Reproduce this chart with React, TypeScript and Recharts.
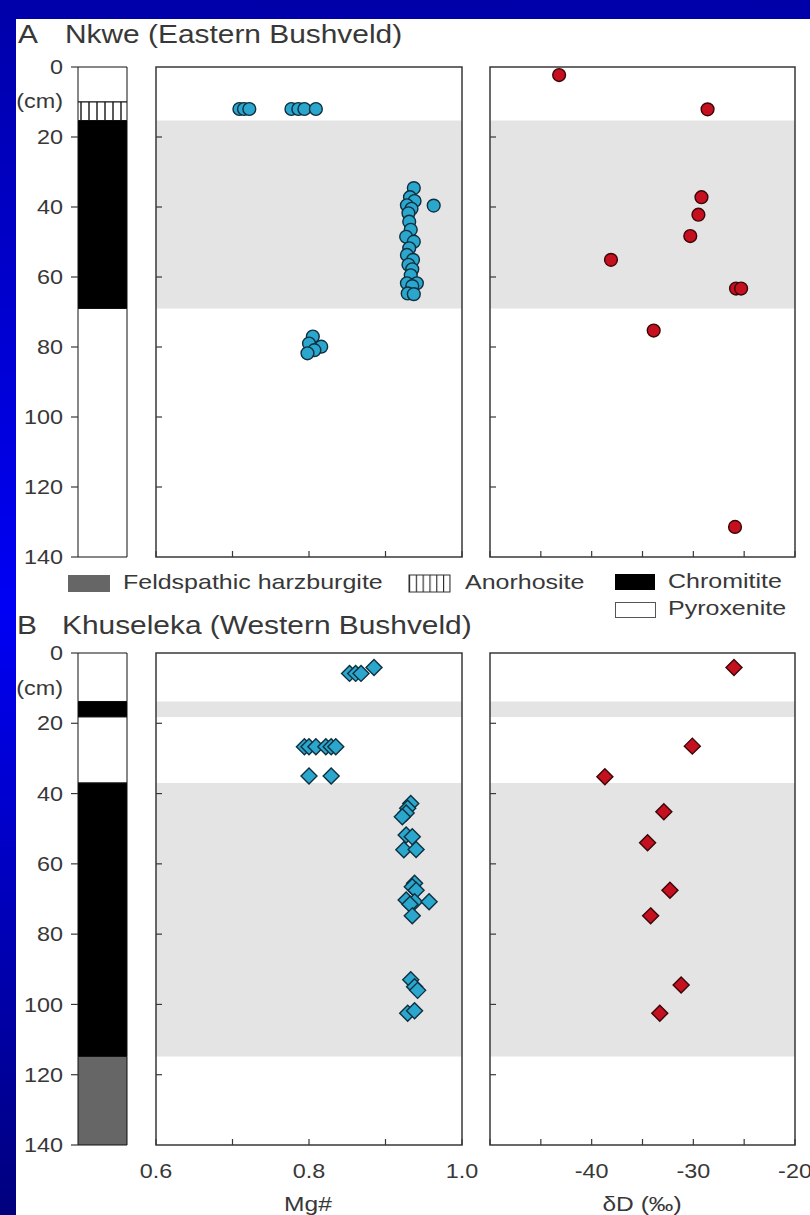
import React from "react";
import { ScatterChart, Scatter, XAxis, YAxis, ReferenceArea, BarChart, Bar } from "recharts";

const FONT = '"Liberation Sans", Arial, Helvetica, sans-serif';
const INK = "#383838";
const STRETCH = 1.17;

// depth axis (cm) shared by all panels
const depthTicks = [0, 20, 40, 60, 80, 100, 120, 140];
const innerDepthTicks = [20, 40, 60, 80, 100, 120];

const mgTicks = [0.6, 0.7, 0.8, 0.9, 1.0];
const mgLabels = [0.6, 0.8, 1.0];
const dDTicks = [-50, -45, -40, -35, -30, -25, -20];
const dDLabels = [-40, -30, -20];

// lithology columns (depth in cm)
const nkweLayers = [
  { rock: "Pyroxenite", from: 0, to: 10 },
  { rock: "Anorthosite", from: 10, to: 15.3 },
  { rock: "Chromitite", from: 15.3, to: 69 },
  { rock: "Pyroxenite", from: 69, to: 140 },
];
const khuselekaLayers = [
  { rock: "Pyroxenite", from: 0, to: 13.8 },
  { rock: "Chromitite", from: 13.8, to: 18.2 },
  { rock: "Pyroxenite", from: 18.2, to: 37 },
  { rock: "Chromitite", from: 37, to: 114.8 },
  { rock: "Feldspathic harzburgite", from: 114.8, to: 140 },
];

// A - Nkwe: [Mg#, depth]
const nkweMg: [number, number][] = [
  [0.709, 12], [0.715, 12], [0.722, 12],
  [0.777, 12], [0.786, 12], [0.794, 12], [0.809, 12],
  [0.937, 34.6], [0.932, 37.2], [0.938, 38.3], [0.928, 39.5], [0.934, 40.5],
  [0.93, 41.8], [0.931, 44.2], [0.933, 46.5], [0.927, 48.5], [0.937, 49.9],
  [0.931, 51.8], [0.928, 53.7], [0.936, 55.1], [0.93, 56.5], [0.935, 57.8],
  [0.933, 59.5], [0.928, 61.8], [0.941, 61.8], [0.935, 62.6], [0.929, 64.7],
  [0.937, 64.9], [0.963, 39.6],
  [0.805, 77], [0.8, 79], [0.816, 79.9], [0.807, 80.9], [0.798, 81.8],
];
// A - Nkwe: [δD, depth]
const nkweDD: [number, number][] = [
  [-43.2, 2.3], [-28.6, 12.1], [-29.2, 37.2], [-29.5, 42.2], [-30.3, 48.3],
  [-38.1, 55.1], [-25.8, 63.3], [-25.3, 63.3], [-33.9, 75.3], [-25.9, 131.4],
];

// B - Khuseleka: [Mg#, depth]
const khuMg: [number, number][] = [
  [0.885, 4.1], [0.853, 5.8], [0.861, 5.8], [0.868, 5.8],
  [0.794, 26.7], [0.8, 26.7], [0.809, 26.7], [0.822, 26.7], [0.829, 26.7], [0.835, 26.7],
  [0.8, 35], [0.829, 35],
  [0.933, 42.8], [0.929, 44.2], [0.927, 45.5], [0.922, 46.6],
  [0.927, 51.8], [0.935, 52.3], [0.924, 56], [0.94, 55.9],
  [0.938, 65.5], [0.935, 66.5], [0.94, 67.5],
  [0.927, 70.3], [0.938, 70.8], [0.957, 70.8], [0.932, 71.5], [0.935, 74.8],
  [0.933, 93], [0.938, 95], [0.942, 96], [0.929, 102.5], [0.938, 101.8],
];
// B - Khuseleka: [δD, depth]
const khuDD: [number, number][] = [
  [-26.0, 4.1], [-30.1, 26.5], [-38.7, 35.2], [-32.9, 45.2], [-34.5, 54],
  [-32.3, 67.5], [-34.2, 74.8], [-31.2, 94.5], [-33.3, 102.5],
];

const rockFill: Record<string, string> = {
  "Feldspathic harzburgite": "#666666",
  Chromitite: "#000000",
  Pyroxenite: "#ffffff",
};

const BLUE = { fill: "#2ba6cc", stroke: "#0f2f3f" };
const RED = { fill: "#c4101f", stroke: "#3a0608" };
const SHADE = "#e4e4e4";

// plot boxes in page pixels
const A_Y = [67, 557];
const B_Y = [653, 1145];
const MID_X = [156, 462];
const RGT_X = [490, 795];
const LITH_X = [78, 127];

const circleShape = (c: { fill: string; stroke: string }) => (p: any) => (
  <circle cx={p.cx} cy={p.cy} r={6.4} fill={c.fill} stroke={c.stroke} strokeWidth={1.4} />
);
const diamondShape = (c: { fill: string; stroke: string }) => (p: any) => {
  const r = 8;
  return (
    <path
      d={`M${p.cx},${p.cy - r}L${p.cx + r},${p.cy}L${p.cx},${p.cy + r}L${p.cx - r},${p.cy}Z`}
      fill={c.fill}
      stroke={c.stroke}
      strokeWidth={1.4}
    />
  );
};

const lithTick = (props: any) => {
  const { x, y, payload } = props;
  return (
    <g>
      <line x1={x - 7} x2={x} y1={y} y2={y} stroke={INK} strokeWidth={1.2} />
      <text
        transform={`translate(${x - 15},${y}) scale(${STRETCH},1)`}
        textAnchor="end"
        dy="0.36em"
        fontSize={20}
        fill={INK}
        fontFamily={FONT}
      >
        {payload.value}
      </text>
    </g>
  );
};

const innerYTick = (props: any) => {
  const { x, y } = props;
  return <line x1={x} x2={x + 6} y1={y} y2={y} stroke={INK} strokeWidth={1.2} />;
};

const makeXTick = (labels: number[] | null, fmt: (v: number) => string) => (props: any) => {
  const { x, y, payload } = props;
  const v = payload.value;
  return (
    <g>
      <line x1={x} x2={x} y1={y} y2={y - 6} stroke={INK} strokeWidth={1.2} />
      {labels && labels.includes(v) && (
        <text
          transform={`translate(${x},${y + 33}) scale(${STRETCH},1)`}
          textAnchor="middle"
          fontSize={20}
          fill={INK}
          fontFamily={FONT}
        >
          {fmt(v)}
        </text>
      )}
    </g>
  );
};

function DataPanel({ xs, ys, domain, ticks, labels, fmt, points, shape, bands }: any) {
  const PADX = 30;
  const PADT = 10;
  const xh = labels ? 45 : 10;
  const data = points.map(([v, d]: [number, number]) => ({ x: v, y: d }));
  return (
    <div style={{ position: "absolute", left: xs[0] - PADX, top: ys[0] - PADT }}>
      <ScatterChart
        width={xs[1] - xs[0] + 2 * PADX}
        height={ys[1] - ys[0] + PADT + xh}
        margin={{ top: PADT, right: PADX, bottom: 0, left: 0 }}
      >
        {bands.map((b: any, i: number) => (
          <ReferenceArea
            key={i}
            x1={domain[0]}
            x2={domain[1]}
            y1={b.from}
            y2={b.to}
            fill={SHADE}
            fillOpacity={1}
            stroke="none"
          />
        ))}
        <XAxis
          type="number"
          dataKey="x"
          domain={domain}
          ticks={ticks}
          interval={0}
          height={xh}
          tickSize={0}
          tickMargin={0}
          tickLine={false}
          axisLine={false}
          allowDataOverflow
          tick={makeXTick(labels, fmt)}
        />
        <YAxis
          type="number"
          dataKey="y"
          domain={[0, 140]}
          reversed
          ticks={innerDepthTicks}
          interval={0}
          width={PADX}
          tickSize={0}
          tickMargin={0}
          tickLine={false}
          axisLine={false}
          allowDataOverflow
          tick={innerYTick}
        />
        <Scatter data={data} shape={shape} isAnimationActive={false} />
        <ReferenceArea
          x1={domain[0]}
          x2={domain[1]}
          y1={0}
          y2={140}
          fill="none"
          stroke={INK}
          strokeWidth={1.5}
        />
      </ScatterChart>
    </div>
  );
}

function LithColumn({ layers, ys, id }: any) {
  const row: any = { name: "col" };
  layers.forEach((l: any, i: number) => {
    row[`l${i}`] = l.to - l.from;
  });
  return (
    <div style={{ position: "absolute", left: 0, top: ys[0] - 15 }}>
      <BarChart
        width={LITH_X[1] + 4}
        height={ys[1] - ys[0] + 30}
        data={[row]}
        margin={{ top: 15, right: 4, bottom: 15, left: 0 }}
        barCategoryGap={0}
        barGap={0}
      >
        <defs>
          <pattern id={id} width={8} height={8} patternUnits="userSpaceOnUse">
            <rect width={8} height={8} fill="#fff" />
            <line x1={1} x2={1} y1={0} y2={8} stroke="#000" strokeWidth={1.3} />
          </pattern>
        </defs>
        <XAxis dataKey="name" hide />
        <YAxis
          type="number"
          domain={[0, 140]}
          reversed
          ticks={depthTicks}
          interval={0}
          width={LITH_X[0]}
          tickSize={0}
          tickMargin={0}
          tickLine={false}
          axisLine={false}
          tick={lithTick}
        />
        {layers.map((l: any, i: number) => (
          <Bar
            key={i}
            dataKey={`l${i}`}
            stackId="lith"
            fill={l.rock === "Anorthosite" ? `url(#${id})` : rockFill[l.rock]}
            stroke="#111"
            strokeWidth={1}
            isAnimationActive={false}
          />
        ))}
      </BarChart>
    </div>
  );
}

const Txt = ({ x, y, size, anchor = "start", sx = STRETCH, children }: any) => (
  <text
    transform={`translate(${x},${y}) scale(${sx},1)`}
    textAnchor={anchor}
    fontSize={size}
    fill={INK}
    fontFamily={FONT}
  >
    {children}
  </text>
);

const chromBands = (layers: any[]) => layers.filter((l) => l.rock === "Chromitite");
const fmtMg = (v: number) => v.toFixed(1);
const fmtDD = (v: number) => String(v);

export default function App() {
  return (
    <div
      style={{
        position: "absolute",
        left: 0,
        top: 0,
        width: 810,
        height: 1215,
        overflow: "hidden",
        background: "linear-gradient(180deg, #0000a8 0%, #0000f4 50%, #00007e 100%)",
        fontFamily: FONT,
      }}
    >
      <div style={{ position: "absolute", left: 16, top: 19, right: 0, bottom: 0, background: "#fff" }} />

      <LithColumn layers={nkweLayers} ys={A_Y} id="hatchA" />
      <DataPanel xs={MID_X} ys={A_Y} domain={[0.6, 1.0]} ticks={mgTicks} labels={null} fmt={fmtMg}
        points={nkweMg} shape={circleShape(BLUE)} bands={chromBands(nkweLayers)} />
      <DataPanel xs={RGT_X} ys={A_Y} domain={[-50, -20]} ticks={dDTicks} labels={null} fmt={fmtDD}
        points={nkweDD} shape={circleShape(RED)} bands={chromBands(nkweLayers)} />

      <LithColumn layers={khuselekaLayers} ys={B_Y} id="hatchB" />
      <DataPanel xs={MID_X} ys={B_Y} domain={[0.6, 1.0]} ticks={mgTicks} labels={mgLabels} fmt={fmtMg}
        points={khuMg} shape={diamondShape(BLUE)} bands={chromBands(khuselekaLayers)} />
      <DataPanel xs={RGT_X} ys={B_Y} domain={[-50, -20]} ticks={dDTicks} labels={dDLabels} fmt={fmtDD}
        points={khuDD} shape={diamondShape(RED)} bands={chromBands(khuselekaLayers)} />

      <svg width={810} height={1215} style={{ position: "absolute", left: 0, top: 0, pointerEvents: "none" }}>
        <defs>
          <pattern id="hatchLeg" width={6.8} height={8} patternUnits="userSpaceOnUse" x={409}>
            <rect width={6.8} height={8} fill="#fff" />
            <line x1={0.6} x2={0.6} y1={0} y2={8} stroke="#222" strokeWidth={1.1} />
          </pattern>
        </defs>
        <Txt x={18} y={43} size={26} sx={1.15}>A</Txt>
        <Txt x={65} y={43} size={26} sx={1.15}>Nkwe (Eastern Bushveld)</Txt>
        <Txt x={63} y={108} size={20} anchor="end">(cm)</Txt>

        <rect x={68} y={575} width={42} height={17} fill="#666666" />
        <Txt x={123} y={589} size={21} sx={1.19}>Feldspathic harzburgite</Txt>
        <rect x={409} y={575} width={41} height={17} fill="url(#hatchLeg)" stroke="#333" strokeWidth={1} />
        <Txt x={465} y={589} size={21} sx={1.19}>Anorhosite</Txt>
        <rect x={615} y={574} width={40} height={16} fill="#000" />
        <Txt x={668} y={588} size={21} sx={1.19}>Chromitite</Txt>
        <rect x={615.5} y={602.5} width={40} height={15} fill="#fff" stroke="#555" strokeWidth={1} />
        <Txt x={668} y={615} size={21} sx={1.19}>Pyroxenite</Txt>

        <Txt x={17} y={634} size={26} sx={1.15}>B</Txt>
        <Txt x={62} y={634} size={26} sx={1.15}>Khuseleka (Western Bushveld)</Txt>
        <Txt x={63} y={695} size={20} anchor="end">(cm)</Txt>

        <Txt x={308} y={1211} size={21} anchor="middle">Mg#</Txt>
        <Txt x={642} y={1211} size={21} anchor="middle">δD (‰)</Txt>
      </svg>
    </div>
  );
}
